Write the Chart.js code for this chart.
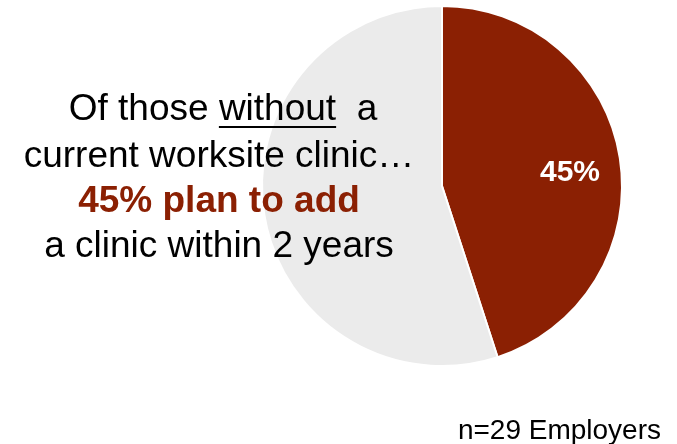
<!DOCTYPE html>
<html>
<head>
<meta charset="utf-8">
<script src="https://cdn.jsdelivr.net/npm/chart.js@4"></script>
<style>
  html, body { margin: 0; padding: 0; background: #fff; }
  #wrap { width: 677px; height: 444px; position: relative; }
</style>
</head>
<body>
<div id="wrap"><canvas id="clinic-pie" width="677" height="444"></canvas></div>
<script>
const slice_labels = ['Plan to add a clinic', 'No plan'];
const slice_values = [45, 55];
const slice_colors = ['#8B2003', '#EBEBEB'];

const headline_lead = ['Of those ', 'without', '  a'];
const headline_lines = ['current worksite clinic\u2026', '45% plan to add', 'a clinic within 2 years'];
const sample_note = 'n=29 Employers';

const FONT = '"Liberation Sans", Arial, sans-serif';

// white percent label inside the red slice
const sliceLabel = {
  id: 'sliceLabel',
  afterDatasetsDraw(chart) {
    const ctx = chart.ctx;
    const arc = chart.getDatasetMeta(0).data[0];
    const mid = (arc.startAngle + arc.endAngle) / 2;
    const r = arc.outerRadius * 0.72;
    ctx.save();
    ctx.fillStyle = '#fff';
    ctx.font = 'bold 30px ' + FONT;
    ctx.textAlign = 'center';
    ctx.textBaseline = 'middle';
    ctx.fillText(slice_values[0] + '%', arc.x + Math.cos(mid) * r, arc.y + Math.sin(mid) * r + 7);
    ctx.restore();
  }
};

// callout text on the left and the sample size note
const callout = {
  id: 'callout',
  afterDraw(chart) {
    const ctx = chart.ctx;
    const cx = 219;
    ctx.save();
    ctx.textBaseline = 'alphabetic';
    ctx.font = '37px ' + FONT;
    ctx.fillStyle = '#000';

    // first line, with "without" underlined
    const widths = headline_lead.map(s => ctx.measureText(s).width);
    let x = cx + 4 - widths.reduce((a, b) => a + b, 0) / 2;
    ctx.textAlign = 'left';
    headline_lead.forEach((s, i) => {
      ctx.fillText(s, x, 120);
      if (i == 1) {
        ctx.fillRect(x, 126, widths[i], 2);
      }
      x += widths[i];
    });

    ctx.textAlign = 'center';
    ctx.fillText(headline_lines[0], cx, 167);
    ctx.font = 'bold 37px ' + FONT;
    ctx.fillStyle = '#8B2003';
    ctx.fillText(headline_lines[1], cx, 212);
    ctx.font = '37px ' + FONT;
    ctx.fillStyle = '#000';
    ctx.fillText(headline_lines[2], cx, 257);

    ctx.font = '28px ' + FONT;
    ctx.textAlign = 'right';
    ctx.fillText(sample_note, 661, 439);
    ctx.restore();
  }
};

new Chart(document.getElementById('clinic-pie').getContext('2d'), {
  type: 'pie',
  data: {
    labels: slice_labels,
    datasets: [{
      data: slice_values,
      backgroundColor: slice_colors,
      borderColor: '#fff',
      borderWidth: 2
    }]
  },
  options: {
    responsive: false,
    animation: false,
    layout: { padding: { left: 261, right: 54, top: 5, bottom: 77 } },
    plugins: {
      legend: { display: false },
      tooltip: { enabled: false }
    }
  },
  plugins: [sliceLabel, callout]
});
</script>
</body>
</html>
